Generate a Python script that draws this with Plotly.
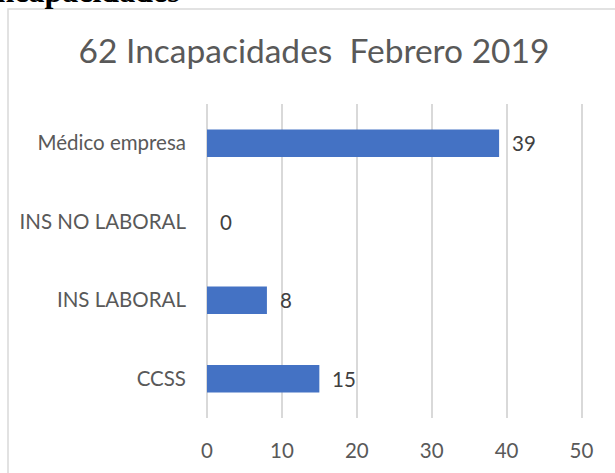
import plotly.graph_objects as go

# Data (bottom to top, as plotly draws categories)
categorias = ["CCSS", "INS LABORAL", "INS NO LABORAL", "Médico empresa"]
incapacidades = [15, 8, 0, 39]
titulo = "62 Incapacidades  Febrero 2019"
x_ticks = [0, 10, 20, 30, 40, 50]

W, H = 615, 473
L, R, T, B = 207, 32, 104, 55
PW, PH = W - L - R, H - T - B

FONT = "Lato, 'Open Sans', sans-serif"
GRID = "#d9d9d9"


def px_x(p):
    return (p - L) / PW


def px_y(p):
    return (H - B - p) / PH


fig = go.Figure()
fig.add_trace(go.Bar(
    x=incapacidades, y=categorias,
    orientation="h",
    width=0.35,
    marker=dict(color="#4472C4", line=dict(width=0)),
    hoverinfo="skip",
))

# data labels a little right of each bar end
annotations = [
    dict(x=v, y=c, xref="x", yref="y", text=str(v), showarrow=False,
         xanchor="left", yanchor="middle", xshift=11,
         font=dict(family=FONT, size=20.5, color="#404040"))
    for c, v in zip(categorias, incapacidades)
]

# heading of the page above the chart, cut off by the crop
annotations.append(dict(
    x=px_x(182), y=px_y(-9), xref="paper", yref="paper",
    text="<b>Incapacidades</b>", showarrow=False,
    xanchor="right", yanchor="middle",
    font=dict(family="Liberation Serif, 'Times New Roman', serif", size=32, color="#000000"),
))

fig.update_layout(
    width=W, height=H,
    margin=dict(l=L, r=R, t=T, b=B),
    plot_bgcolor="white",
    paper_bgcolor="white",
    showlegend=False,
    title=dict(
        text=titulo,
        x=314 / W, xref="container", xanchor="center",
        y=1 - 51 / H, yref="container", yanchor="middle",
        font=dict(family=FONT, size=33.5, color="#595959"),
    ),
    annotations=annotations,
    shapes=[dict(
        type="rect", xref="paper", yref="paper",
        x0=px_x(8), x1=px_x(640), y0=px_y(500), y1=px_y(9),
        line=dict(color=GRID, width=1.5), fillcolor="rgba(0,0,0,0)", layer="below",
    )],
)

fig.update_xaxes(
    range=[0, 50.2], tickvals=x_ticks,
    showgrid=True, gridcolor=GRID, gridwidth=2,
    zeroline=True, zerolinecolor=GRID, zerolinewidth=2,
    showline=False, ticks="",
    ticklabelstandoff=18,
    tickfont=dict(family=FONT, size=20.5, color="#595959"),
    fixedrange=True,
)
fig.update_yaxes(
    type="category", categoryorder="array", categoryarray=categorias,
    showgrid=False, zeroline=False, showline=False, ticks="",
    ticklabelstandoff=20,
    tickfont=dict(family=FONT, size=20.5, color="#595959"),
    fixedrange=True,
)

fig.write_html(
    "out.html",
    config={"displayModeBar": False},
    post_script="document.body.style.margin='0';",
)
